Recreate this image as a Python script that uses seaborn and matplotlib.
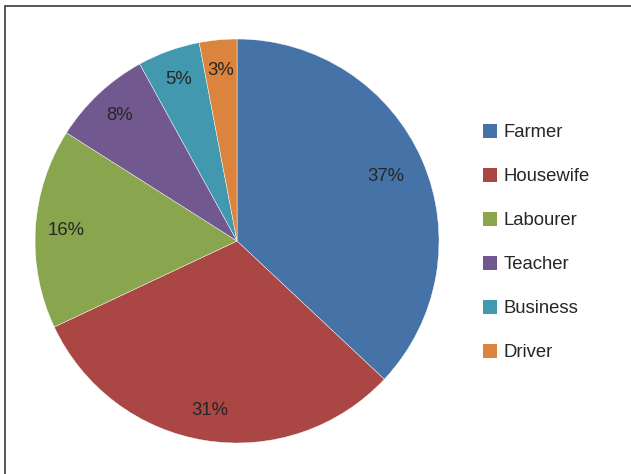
import matplotlib
matplotlib.use('Agg')
import matplotlib.pyplot as plt
from matplotlib.patches import Patch, Rectangle
import seaborn as sns

# data
categories = ['Farmer', 'Housewife', 'Labourer', 'Teacher', 'Business', 'Driver']
shares = [37, 31, 16, 8, 5, 3]
colors = ['#4572A7', '#AA4643', '#89A54E', '#71588F', '#4198AF', '#DB843D']

sns.set_theme(style='white')
plt.rcParams['font.family'] = ['Liberation Sans', 'DejaVu Sans']
text_color = '#262626'

fig = plt.figure(figsize=(6.31, 4.74), dpi=100)
ax = fig.add_axes([0.0555, 0.0654, 0.6403, 0.8523])

palette = sns.color_palette(colors)
wedges, texts, autotexts = ax.pie(
    shares, colors=palette, startangle=90, counterclock=False,
    autopct='%d%%', pctdistance=0.85,
    wedgeprops=dict(edgecolor='white', linewidth=0.3),
    textprops=dict(fontsize=13.3, color=text_color))

# Excel's "best fit" puts the big slice label a bit further in
x, y = autotexts[0].get_position()
autotexts[0].set_position((x * 0.8 / 0.85, y * 0.8 / 0.85))

ax.set_xlim(-1, 1)
ax.set_ylim(-1, 1)
ax.set_aspect('equal')
ax.axis('off')

handles = [Patch(facecolor=c, edgecolor='none') for c in palette]
fig.legend(handles, categories, loc='center left',
           bbox_to_anchor=(0.739, 0.488), frameon=False,
           fontsize=13.3, labelcolor=text_color,
           handlelength=0.78, handleheight=0.78,
           handletextpad=0.35, labelspacing=1.44)

# chart frame (right and bottom edges are cropped in the original)
fig.add_artist(Rectangle((5 / 631, -0.2), 2.0, 1.2 - 6 / 474,
                         transform=fig.transFigure, fill=False,
                         edgecolor='#3a3a3a', linewidth=1.2))

fig.savefig('out.png', dpi=100)
